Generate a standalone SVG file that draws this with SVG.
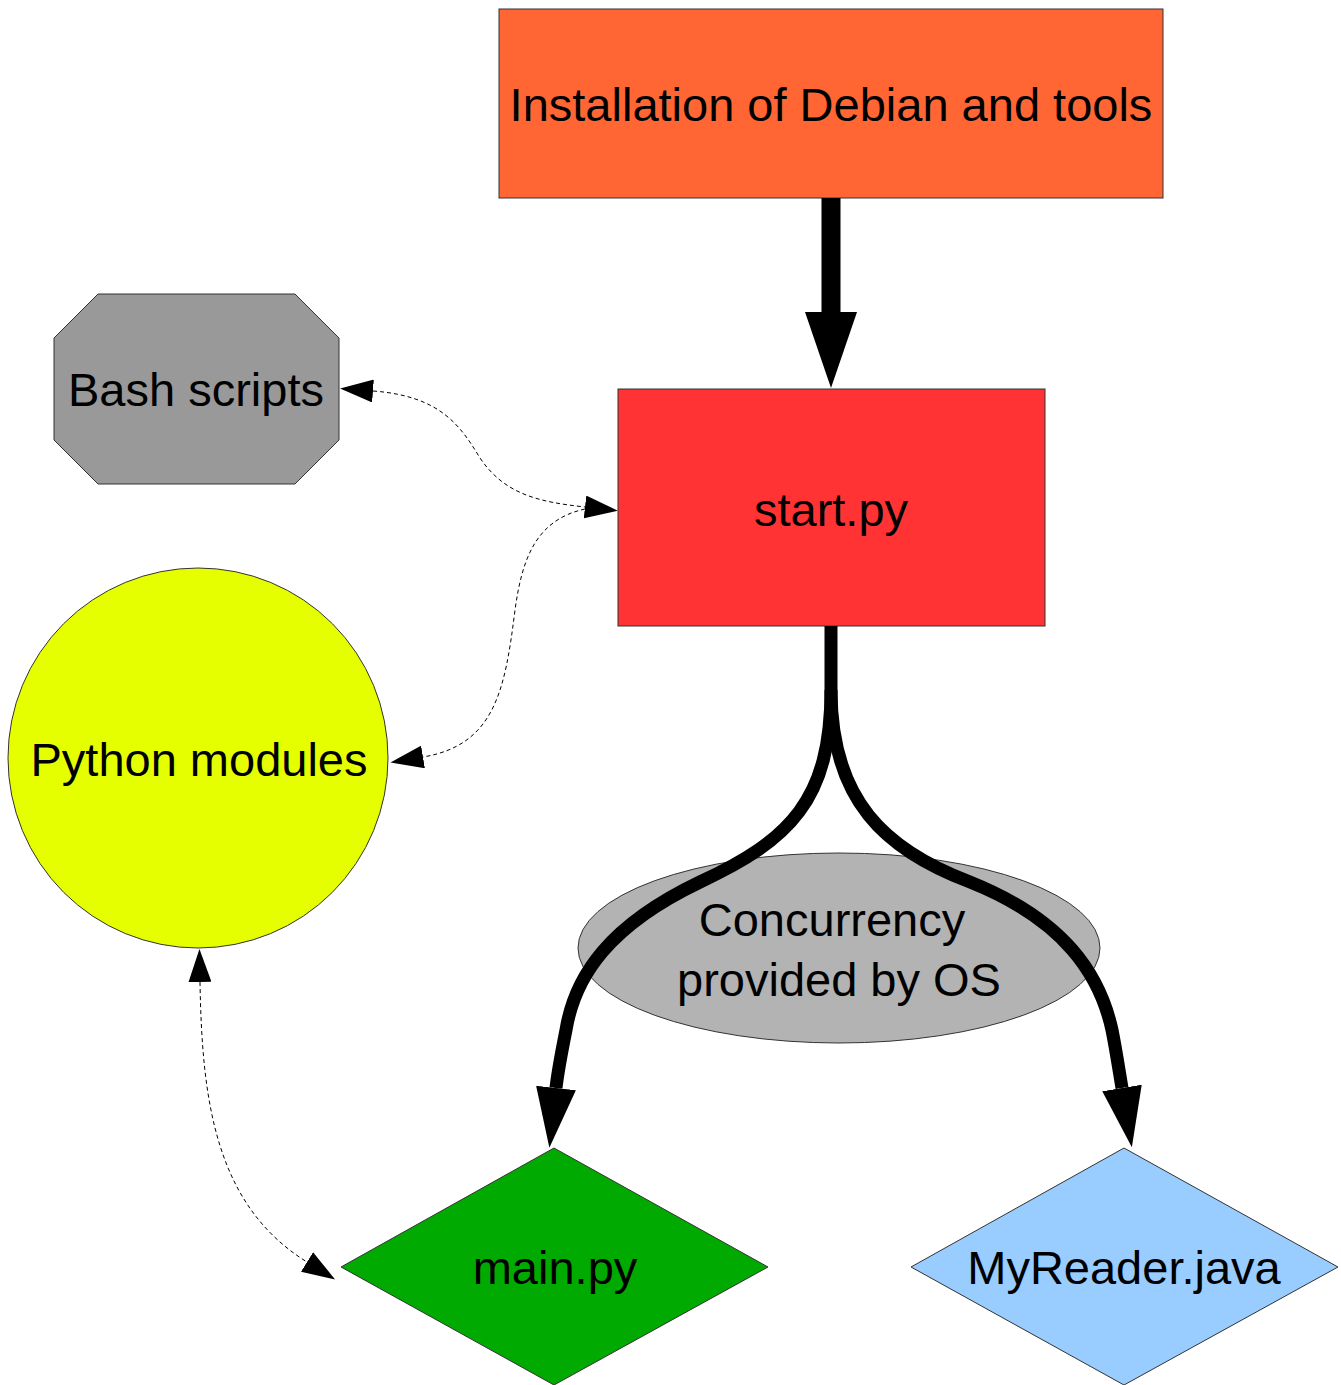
<svg xmlns="http://www.w3.org/2000/svg" width="1341" height="1385" viewBox="0 0 1341 1385">
  <style>
    .node { stroke: #333333; stroke-width: 1; }
    .label { font-family: "Liberation Sans", Arial, sans-serif; font-size: 47px; fill: #000000; text-anchor: middle; }
    .thick { fill: none; stroke: #000000; }
    .dashed { fill: none; stroke: #000000; stroke-width: 1; stroke-dasharray: 4 3; }
  </style>
  <defs>
    <marker id="headBig" markerUnits="userSpaceOnUse" markerWidth="76" markerHeight="52" refX="0" refY="26" orient="auto" viewBox="0 0 76 52">
      <path d="M0,0 L76,26 L0,52 Z" fill="#000000"/>
    </marker>
    <marker id="headMid" markerUnits="userSpaceOnUse" markerWidth="60" markerHeight="40" refX="0" refY="20" orient="auto" viewBox="0 0 60 40">
      <path d="M0,0 L60,20 L0,40 Z" fill="#000000"/>
    </marker>
    <marker id="headSmall" markerUnits="userSpaceOnUse" markerWidth="33" markerHeight="23" refX="0" refY="11.5" orient="auto-start-reverse" viewBox="0 0 33 23">
      <path d="M0,0 L33,11.5 L0,23 Z" fill="#000000"/>
    </marker>
  </defs>

  <rect width="1341" height="1385" fill="#ffffff"/>

  <g id="install">
    <rect class="node" x="499" y="9" width="664" height="189" fill="#ff6633"/>
    <text class="label" x="831" y="121">Installation of Debian and tools</text>
  </g>

  <g id="bash">
    <polygon class="node" points="98,294 295,294 339,338 339,440 295,484 98,484 54,440 54,338" fill="#999999"/>
    <text class="label" x="196" y="406">Bash scripts</text>
  </g>

  <g id="start">
    <rect class="node" x="618" y="389" width="427" height="237" fill="#ff3333"/>
    <text class="label" x="831" y="526">start.py</text>
  </g>

  <g id="python">
    <circle class="node" cx="198" cy="758" r="190" fill="#e6ff00"/>
    <text class="label" x="199" y="776">Python modules</text>
  </g>

  <g id="concurrency">
    <ellipse class="node" cx="839" cy="948" rx="261" ry="95" fill="#b3b3b3"/>
    <text class="label" x="832" y="936">Concurrency</text>
    <text class="label" x="839" y="996">provided by OS</text>
  </g>

  <g id="main">
    <polygon class="node" points="554,1148 768,1267 554,1385 341,1267" fill="#00aa00"/>
    <text class="label" x="555" y="1284">main.py</text>
  </g>

  <g id="reader">
    <polygon class="node" points="1124,1148 1338,1267 1124,1385 911,1267" fill="#99ccff"/>
    <text class="label" x="1124" y="1284">MyReader.java</text>
  </g>

  <!-- connectors, drawn over the nodes -->
  <g id="connectors">
    <path class="thick" stroke-width="19" d="M831,198 L831,312" marker-end="url(#headBig)"/>
    <path class="thick" stroke-width="13" d="M831,626 L831,690 C831,800 790,840 700,882 C610,925 575,975 566,1030 C562,1050 558,1070 556,1088" marker-end="url(#headMid)"/>
    <path class="thick" stroke-width="13" d="M831,690 C831,800 885,850 970,882 C1065,920 1100,975 1112,1030 C1116,1050 1119,1070 1122,1088" marker-end="url(#headMid)"/>
    <path class="dashed" d="M373,391 C440,396 460,425 480,458 C505,495 540,502 585,507" marker-start="url(#headSmall)" marker-end="url(#headSmall)"/>
    <path class="dashed" d="M585,509 C535,520 522,560 515,610 C505,690 495,745 423,757" marker-end="url(#headSmall)"/>
    <path class="dashed" d="M200,982 C202,1100 215,1205 307,1262" marker-start="url(#headSmall)" marker-end="url(#headSmall)"/>
  </g>
</svg>
